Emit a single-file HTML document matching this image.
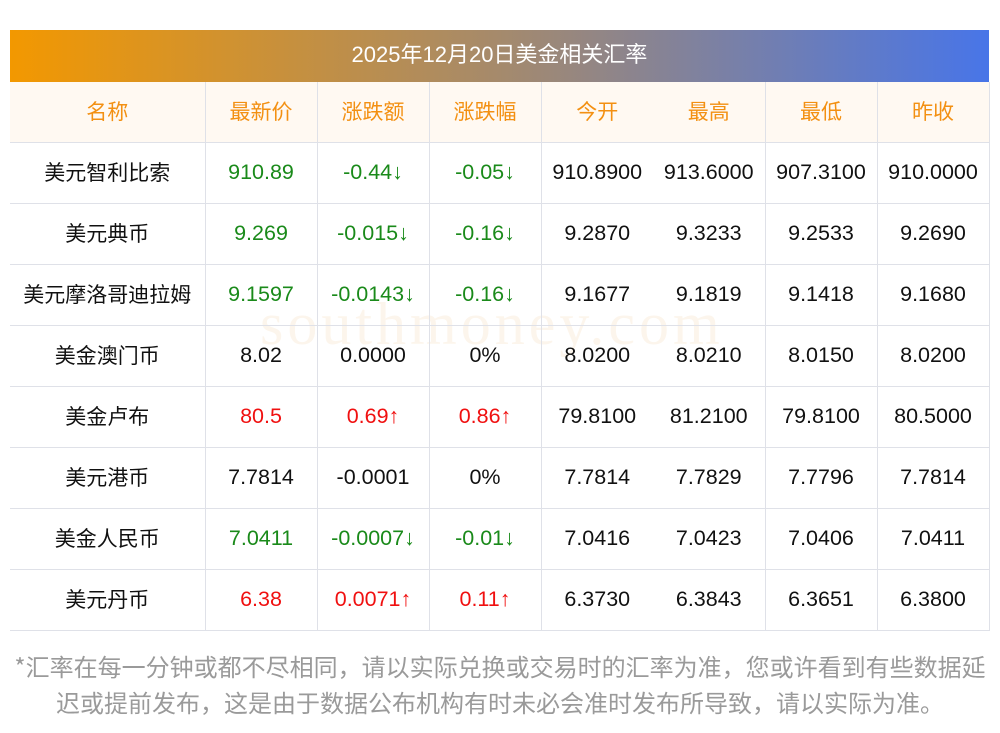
<!DOCTYPE html>
<html><head><meta charset="utf-8"><style>
body{margin:0;width:1000px;height:733px;background:#fff;position:relative;overflow:hidden;font-family:"Liberation Sans","Noto Sans CJK SC",sans-serif}
.t{position:absolute;left:10px;top:30px;width:979px;height:52px;background:linear-gradient(90deg,#f39800,#a58a6c 50%,#4875e8);color:#fff;font-size:22px;line-height:50px;text-align:center}
table{position:absolute;left:10px;top:82px;width:979px;border-collapse:collapse;table-layout:fixed}
td{height:57px;border-bottom:1px solid #dfe1e8;text-align:center;font-size:21.5px;padding:0 0 3px 0;color:#111;line-height:24px}
td.c{font-family:"Noto Sans CJK SC",sans-serif;font-size:21px}
tr.h td{background:#fff9f2;color:#f39012;height:57px;font-family:"Noto Sans CJK SC",sans-serif;font-size:21px}
.b{border-left:1px solid #dfe1e8}
.r{border-right:1px solid #dfe1e8}
.g{color:#1a8a1a}.d{color:#f01010}
.f{position:absolute;left:0;width:1000px;text-align:center;color:#9a9a9a;font-size:24px;font-family:"Noto Sans CJK SC",sans-serif;line-height:30px}
.w{position:absolute;left:260px;top:290px;font-size:60px;color:rgba(240,200,150,0.18);font-family:"Liberation Serif",serif;letter-spacing:4px}
</style></head><body>
<div class="t">2025年12月20日美金相关汇率</div>
<div class="w">southmoney.com</div>
<table>
<colgroup><col style="width:195px"><col style="width:112px"><col style="width:112px"><col style="width:112px"><col style="width:112px"><col style="width:112px"><col style="width:112px"><col style="width:112px"></colgroup>
<tr class="h"><td>名称</td><td class="b">最新价</td><td class="b">涨跌额</td><td class="b">涨跌幅</td><td class="b">今开</td><td>最高</td><td class="b">最低</td><td class="b r">昨收</td></tr>
<tr><td class="c">美元智利比索</td><td class="b g">910.89</td><td class="b g">-0.44↓</td><td class="b g">-0.05↓</td><td class="b">910.8900</td><td>913.6000</td><td class="b">907.3100</td><td class="b r">910.0000</td></tr>
<tr><td class="c">美元典币</td><td class="b g">9.269</td><td class="b g">-0.015↓</td><td class="b g">-0.16↓</td><td class="b">9.2870</td><td>9.3233</td><td class="b">9.2533</td><td class="b r">9.2690</td></tr>
<tr><td class="c">美元摩洛哥迪拉姆</td><td class="b g">9.1597</td><td class="b g">-0.0143↓</td><td class="b g">-0.16↓</td><td class="b">9.1677</td><td>9.1819</td><td class="b">9.1418</td><td class="b r">9.1680</td></tr>
<tr><td class="c">美金澳门币</td><td class="b">8.02</td><td class="b">0.0000</td><td class="b">0%</td><td class="b">8.0200</td><td>8.0210</td><td class="b">8.0150</td><td class="b r">8.0200</td></tr>
<tr><td class="c">美金卢布</td><td class="b d">80.5</td><td class="b d">0.69↑</td><td class="b d">0.86↑</td><td class="b">79.8100</td><td>81.2100</td><td class="b">79.8100</td><td class="b r">80.5000</td></tr>
<tr><td class="c">美元港币</td><td class="b">7.7814</td><td class="b">-0.0001</td><td class="b">0%</td><td class="b">7.7814</td><td>7.7829</td><td class="b">7.7796</td><td class="b r">7.7814</td></tr>
<tr><td class="c">美金人民币</td><td class="b g">7.0411</td><td class="b g">-0.0007↓</td><td class="b g">-0.01↓</td><td class="b">7.0416</td><td>7.0423</td><td class="b">7.0406</td><td class="b r">7.0411</td></tr>
<tr><td class="c">美元丹币</td><td class="b d">6.38</td><td class="b d">0.0071↑</td><td class="b d">0.11↑</td><td class="b">6.3730</td><td>6.3843</td><td class="b">6.3651</td><td class="b r">6.3800</td></tr>
</table>
<div class="f" style="top:651px">*汇率在每一分钟或都不尽相同，请以实际兑换或交易时的汇率为准，您或许看到有些数据延</div>
<div class="f" style="top:687px">迟或提前发布，这是由于数据公布机构有时未必会准时发布所导致，请以实际为准。</div>
</body></html>
